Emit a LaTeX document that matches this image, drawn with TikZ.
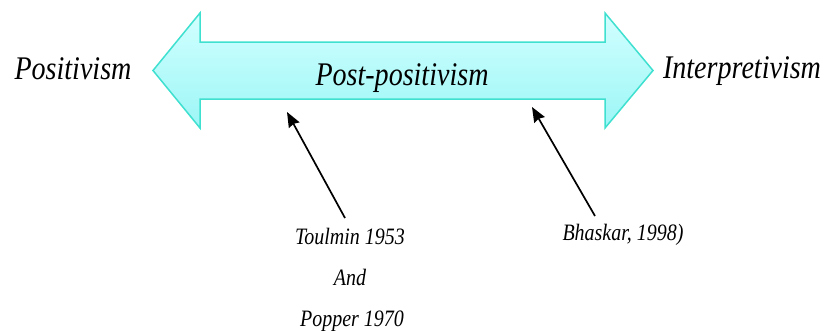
\documentclass[tikz,border=0pt]{standalone}
\usepackage{fontspec}
\newfontfamily\condserif[FakeStretch=0.85]{Liberation Serif}
\usetikzlibrary{arrows.meta}
\definecolor{arrowedge}{HTML}{3FE0D0}
\definecolor{arrowtop}{HTML}{D2FFFF}
\definecolor{arrowbot}{HTML}{9CF6F6}
\tikzset{
  bigtext/.style={inner sep=0pt, anchor=base, font=\condserif\itshape\fontsize{33}{38}\selectfont},
  smalltext/.style={inner sep=0pt, anchor=base, font=\condserif\itshape\fontsize{23.5}{28}\selectfont},
  pointer/.style={line width=1.7pt, -{Stealth[length=15pt,width=12pt,inset=1.5pt]}},
  band/.style={draw=arrowedge, line width=1.5pt, top color=arrowtop, bottom color=arrowbot, line join=miter}
}
\begin{document}
\begin{tikzpicture}[x=1pt,y=-1pt]
\useasboundingbox (0,0) rectangle (826,332);
% double-headed band
\shadedraw[band] (153,70.5) -- (200,13) -- (200,42) -- (605,42) -- (605,13)
  -- (653,70.5) -- (605,128) -- (605,99) -- (200,99) -- (200,128) -- cycle;
% labels along the band
\node[bigtext] (pos) at (73,79) {Positivism};
\node[bigtext] (post) at (402,85) {Post-positivism};
\node[bigtext] (interp) at (742,78) {Interpretivism};
% references below
\node[smalltext] (toulmin) at (350,244) {Toulmin 1953};
\node[smalltext] (and) at (350,285) {And};
\node[smalltext] (popper) at (352,326) {Popper 1970};
\node[smalltext] (bhaskar) at (623,240) {Bhaskar, 1998)};
% pointers up to the band
\coordinate (t1) at (287,112);
\coordinate (t2) at (532,107);
\coordinate (s1) at (345,218);
\coordinate (s2) at (595,216);
\draw[pointer] (s1) -- (t1);
\draw[pointer] (s2) -- (t2);
\end{tikzpicture}
\end{document}
